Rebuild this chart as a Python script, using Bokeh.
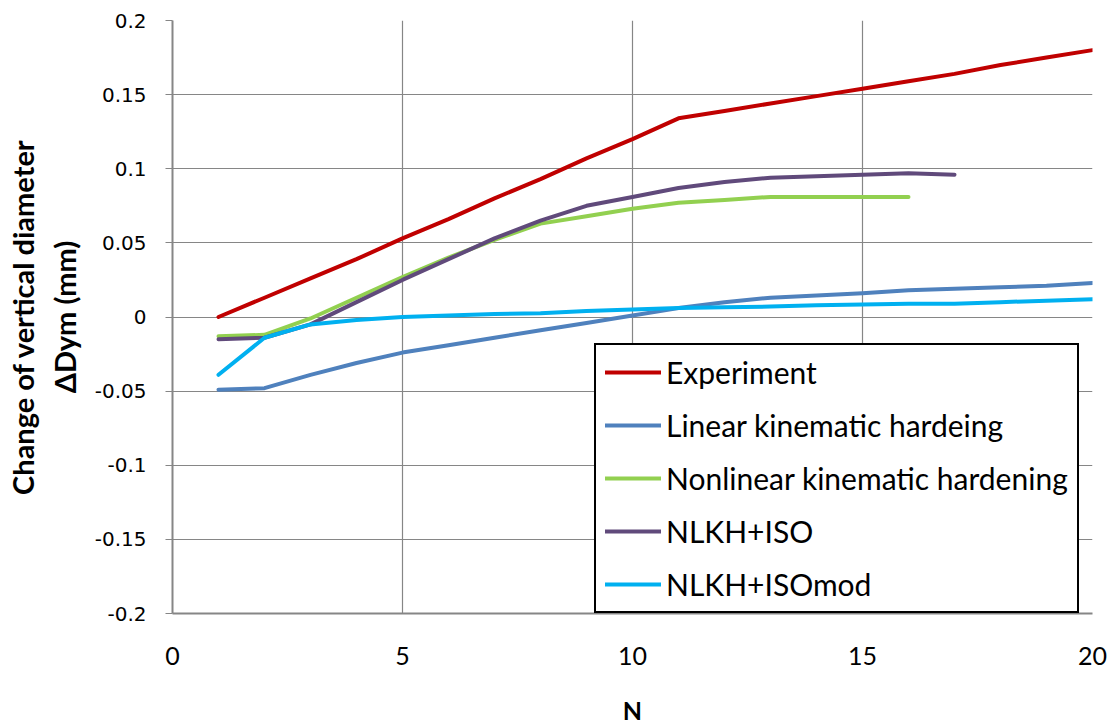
from bokeh.plotting import figure
from bokeh.models import FixedTicker, NumeralTickFormatter, Legend, LegendItem
from bokeh.embed import file_html
from bokeh.resources import INLINE

# ---- data ----
n_full = list(range(1, 21))
experiment = [0.000, 0.013, 0.026, 0.039, 0.053, 0.066, 0.080, 0.093, 0.107, 0.120,
              0.134, 0.139, 0.144, 0.149, 0.154, 0.159, 0.164, 0.170, 0.175, 0.180]
linear_kh = [-0.049, -0.048, -0.039, -0.031, -0.024, -0.019, -0.014, -0.009, -0.004, 0.001,
             0.006, 0.010, 0.013, 0.0145, 0.016, 0.018, 0.019, 0.020, 0.021, 0.023]
n_nlkh = list(range(1, 17))
nonlinear_kh = [-0.013, -0.012, -0.001, 0.013, 0.027, 0.040, 0.052, 0.063, 0.068, 0.073,
                0.077, 0.079, 0.081, 0.081, 0.081, 0.081]
n_iso = list(range(1, 18))
nlkh_iso = [-0.015, -0.014, -0.005, 0.010, 0.025, 0.039, 0.053, 0.065, 0.075, 0.081,
            0.087, 0.091, 0.094, 0.095, 0.096, 0.097, 0.096]
nlkh_isomod = [-0.039, -0.014, -0.005, -0.002, 0.000, 0.001, 0.002, 0.0026, 0.004, 0.005,
               0.006, 0.0065, 0.007, 0.008, 0.0085, 0.009, 0.009, 0.010, 0.011, 0.012]

series_names = ["Experiment", "Linear kinematic hardeing", "Nonlinear kinematic hardening",
                "NLKH+ISO", "NLKH+ISOmod"]
series_colors = ["#C00000", "#4F81BD", "#92D050", "#604A7B", "#00B0F0"]

x_ticks = [0, 5, 10, 15, 20]
y_ticks = [-0.2, -0.15, -0.1, -0.05, 0, 0.05, 0.1, 0.15, 0.2]

x_title = "N"
y_title = "Change of vertical diameter\nΔDym (mm)"

# ---- figure ----
p = figure(width=1111, height=727, x_range=(0, 20), y_range=(-0.2, 0.2),
           output_backend="svg", toolbar_location=None,
           min_border_left=172, min_border_right=19, min_border_top=20, min_border_bottom=114)
p.outline_line_color = None
p.background_fill_color = "white"
p.border_fill_color = "white"

grid_color = "#868686"
p.xaxis.ticker = FixedTicker(ticks=x_ticks)
p.yaxis.ticker = FixedTicker(ticks=y_ticks)
p.xgrid.ticker = FixedTicker(ticks=x_ticks)
p.ygrid.ticker = FixedTicker(ticks=y_ticks)
for g in (p.xgrid, p.ygrid):
    g.grid_line_color = grid_color
    g.grid_line_width = 1.2

p.yaxis.formatter = NumeralTickFormatter(format="0.[00]")

for ax in (p.xaxis, p.yaxis):
    ax.axis_line_color = grid_color
    ax.axis_line_width = 2
    ax.minor_tick_line_color = None
    ax.major_tick_line_color = grid_color
    ax.major_tick_line_width = 1.2
    ax.major_label_text_color = "#000000"
    ax.axis_label_text_color = "#000000"
    ax.axis_label_text_font = "Lato"
    ax.axis_label_text_font_style = "bold"

p.yaxis.major_tick_out = 7
p.yaxis.major_tick_in = 0
p.yaxis.major_label_standoff = 19
p.yaxis.major_label_text_font = "DejaVu Sans"
p.yaxis.major_label_text_font_size = "20px"
p.yaxis.axis_label = y_title
p.yaxis.axis_label_text_font_size = "29px"
p.yaxis.axis_label_standoff = 10

p.xaxis.major_tick_out = 0
p.xaxis.major_tick_in = 0
p.xaxis.major_label_standoff = 33
p.xaxis.major_label_text_font = "Lato"
p.xaxis.major_label_text_font_size = "25px"
p.xaxis.axis_label = x_title
p.xaxis.axis_label_text_font_size = "25px"
p.xaxis.axis_label_standoff = 27

# ---- series ----
xs = [n_full, n_full, n_nlkh, n_iso, n_full]
ys = [experiment, linear_kh, nonlinear_kh, nlkh_iso, nlkh_isomod]
items = []
for name, color, x, y in zip(series_names, series_colors, xs, ys):
    r = p.line(x, y, line_color=color, line_width=4, line_join="round", line_cap="round")
    items.append(LegendItem(label=name, renderers=[r]))

legend = Legend(items=items, location=(422, 0), margin=0, padding=9, spacing=17,
                glyph_width=56, glyph_height=36, label_height=36, label_standoff=5,
                label_text_font="Lato", label_text_font_size="30px", label_text_color="#000000",
                border_line_color="black", border_line_width=2, border_line_alpha=1.0,
                background_fill_color="white", background_fill_alpha=1.0)
p.add_layout(legend)

open("out.html", "w").write(file_html(p, INLINE))
